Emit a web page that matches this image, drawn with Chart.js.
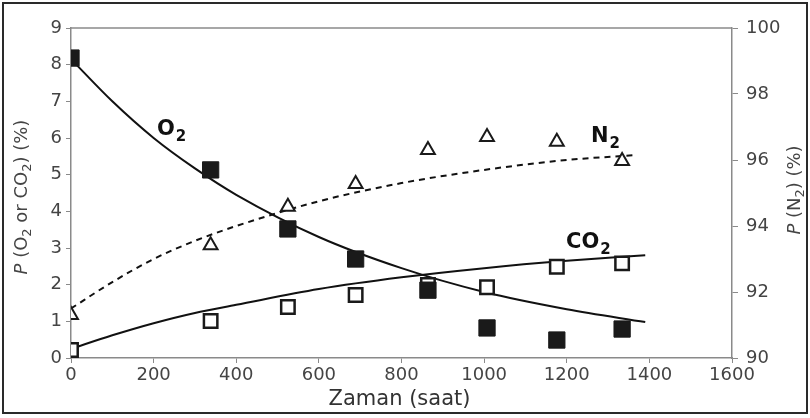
<!DOCTYPE html>
<html>
<head>
<meta charset="utf-8">
<script src="https://cdn.jsdelivr.net/npm/chart.js@4.4.1/dist/chart.umd.min.js"></script>
<style>
  html, body { margin: 0; padding: 0; background: #fff; }
  #wrap { width: 810px; height: 418px; position: relative; }
</style>
</head>
<body>
<div id="wrap"><canvas id="gasChart" width="810" height="418"></canvas></div>
<script>
// measured points (hours)
const hours = [0, 338, 525, 689, 864, 1007, 1176, 1334];
const o2 = [8.18, 5.13, 3.52, 2.70, 1.85, 0.82, 0.49, 0.79];
const co2 = [0.22, 1.01, 1.39, 1.72, 1.99, 1.93, 2.49, 2.58];
const n2 = [91.3, 93.42, 94.58, 95.27, 96.30, 96.70, 96.55, 95.97];

// fitted curves
const fitHours = [0, 100, 200, 300, 400, 600, 800, 1000, 1200, 1390];
const o2Fit = [8.15, 7.0, 6.0, 5.17, 4.45, 3.30, 2.45, 1.80, 1.33, 0.98];
const co2Fit = [0.25, 0.62, 0.95, 1.23, 1.45, 1.88, 2.20, 2.45, 2.65, 2.80];
const n2FitHours = [0, 100, 200, 300, 400, 600, 800, 1000, 1200, 1370];
const n2Fit = [91.5, 92.3, 93.0, 93.55, 94.0, 94.75, 95.3, 95.7, 96.0, 96.15];

const toXY = (xs, ys) => xs.map((x, i) => ({ x: x, y: ys[i] }));

const axisGray = '#8a8a8a';
const tickFont = { family: 'DejaVu Sans', size: 18 };

// draws frame, top line, series labels and axis titles
const decorations = {
    id: 'decorations',
    afterDraw(chart) {
        const ctx = chart.ctx;
        const area = chart.chartArea;
        ctx.save();
        // outer frame
        ctx.strokeStyle = '#2a2a2a';
        ctx.lineWidth = 2;
        ctx.strokeRect(3, 3, 804, 410);
        // top line of plot box
        ctx.strokeStyle = axisGray;
        ctx.lineWidth = 1.5;
        ctx.beginPath();
        ctx.moveTo(area.left, area.top);
        ctx.lineTo(area.right, area.top);
        ctx.stroke();

        // series labels
        ctx.fillStyle = '#111';
        ctx.textBaseline = 'alphabetic';
        ctx.textAlign = 'left';
        function gasLabel(main, x, y) {
            ctx.font = 'bold 21px "DejaVu Sans"';
            ctx.fillText(main, x, y);
            const w = ctx.measureText(main).width;
            ctx.font = 'bold 15px "DejaVu Sans"';
            ctx.fillText('2', x + w + 1, y + 6);
        }
        gasLabel('O', 157, 135);
        gasLabel('N', 591, 142);
        gasLabel('CO', 566, 248);

        // x title
        ctx.fillStyle = '#333';
        ctx.font = '21px "DejaVu Sans"';
        ctx.textAlign = 'center';
        ctx.fillText('Zaman (saat)', (area.left + area.right) / 2 - 2, 405);

        // rotated titles built from pieces
        function vertTitle(parts, cx, cy) {
            ctx.save();
            ctx.translate(cx, cy);
            ctx.rotate(-Math.PI / 2);
            ctx.textAlign = 'left';
            let total = 0;
            parts.forEach(p => { ctx.font = p.font; total += ctx.measureText(p.t).width; });
            let x = -total / 2;
            parts.forEach(p => {
                ctx.font = p.font;
                ctx.fillText(p.t, x, p.dy || 0);
                x += ctx.measureText(p.t).width;
            });
            ctx.restore();
        }
        const reg = '18px "DejaVu Sans"';
        const ital = 'italic 18px "DejaVu Sans"';
        const sub = '13px "DejaVu Sans"';
        ctx.fillStyle = '#444';
        vertTitle([
            { t: 'P', font: ital },
            { t: ' (O', font: reg },
            { t: '2', font: sub, dy: 4 },
            { t: ' or CO', font: reg },
            { t: '2', font: sub, dy: 4 },
            { t: ') (%)', font: reg }
        ], 27, 197);
        vertTitle([
            { t: 'P', font: ital },
            { t: ' (N', font: reg },
            { t: '2', font: sub, dy: 4 },
            { t: ') (%)', font: reg }
        ], 800, 190);
        ctx.restore();
    }
};

const plainTick = (v) => String(v);

const gasChart = new Chart(document.getElementById('gasChart').getContext('2d'), {
    type: 'scatter',
    data: {
        datasets: [
            {
                label: 'O2',
                data: toXY(hours, o2),
                yAxisID: 'y',
                pointStyle: 'rect',
                pointRadius: 11.5,
                backgroundColor: '#1a1a1a',
                borderColor: '#1a1a1a',
                borderWidth: 1
            },
            {
                label: 'CO2',
                data: toXY(hours, co2),
                yAxisID: 'y',
                pointStyle: 'rect',
                pointRadius: 9.5,
                backgroundColor: '#ffffff',
                borderColor: '#1a1a1a',
                borderWidth: 2.5
            },
            {
                label: 'N2',
                data: toXY(hours, n2),
                yAxisID: 'y1',
                pointStyle: 'triangle',
                pointRadius: 8,
                backgroundColor: '#ffffff',
                borderColor: '#1a1a1a',
                borderWidth: 2
            },
            {
                label: 'O2 fit',
                data: toXY(fitHours, o2Fit),
                yAxisID: 'y',
                showLine: true,
                pointRadius: 0,
                borderColor: '#111',
                borderWidth: 2,
                cubicInterpolationMode: 'monotone'
            },
            {
                label: 'CO2 fit',
                data: toXY(fitHours, co2Fit),
                yAxisID: 'y',
                showLine: true,
                pointRadius: 0,
                borderColor: '#111',
                borderWidth: 2,
                cubicInterpolationMode: 'monotone'
            },
            {
                label: 'N2 fit',
                data: toXY(n2FitHours, n2Fit),
                yAxisID: 'y1',
                showLine: true,
                pointRadius: 0,
                borderColor: '#111',
                borderWidth: 2,
                borderDash: [6, 5],
                cubicInterpolationMode: 'monotone'
            }
        ]
    },
    options: {
        responsive: false,
        animation: false,
        events: [],
        layout: { padding: { top: 28, left: 0, right: 0, bottom: 0 } },
        plugins: {
            legend: { display: false },
            tooltip: { enabled: false }
        },
        scales: {
            x: {
                type: 'linear',
                min: 0,
                max: 1600,
                ticks: { stepSize: 200, color: '#444', font: tickFont, padding: 2, maxRotation: 0, callback: plainTick },
                grid: { drawOnChartArea: false, drawTicks: true, tickLength: 5, color: axisGray },
                border: { color: axisGray, width: 1.5 },
                afterFit: (s) => { s.height = 60; }
            },
            y: {
                position: 'left',
                min: 0,
                max: 9,
                ticks: { stepSize: 1, color: '#444', font: tickFont, padding: 4, callback: plainTick },
                grid: { drawOnChartArea: false, drawTicks: true, tickLength: 5, color: axisGray },
                border: { color: axisGray, width: 1.5 },
                afterFit: (s) => { s.width = 71; }
            },
            y1: {
                position: 'right',
                min: 90,
                max: 100,
                ticks: { stepSize: 2, color: '#444', font: tickFont, padding: 8, callback: plainTick },
                grid: { drawOnChartArea: false, drawTicks: true, tickLength: 6, color: axisGray },
                border: { color: axisGray, width: 1.5 },
                afterFit: (s) => { s.width = 78; }
            }
        }
    },
    plugins: [decorations]
});
</script>
</body>
</html>
